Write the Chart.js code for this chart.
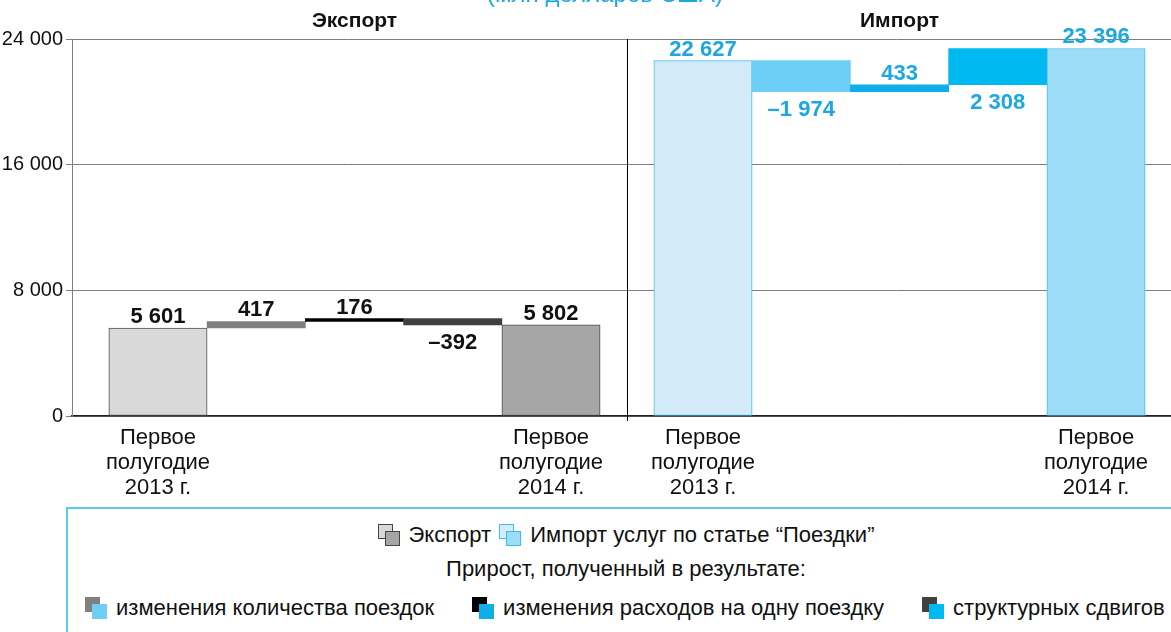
<!DOCTYPE html>
<html lang="ru">
<head>
<meta charset="utf-8">
<script src="https://cdn.jsdelivr.net/npm/chart.js@4.4.1/dist/chart.umd.min.js"></script>
<style>
  html, body { margin: 0; padding: 0; background: #fff; overflow: hidden; }
  body { width: 1171px; height: 632px; position: relative; font-family: "Liberation Sans", Arial, sans-serif; color: #111; }
  #wrap { position: absolute; left: 0; top: -20px; width: 1171px; height: 525px; }
  .legend { position: absolute; left: 66px; top: 507px; width: 1120px; height: 150px; border: 2px solid #5bc8f0; box-sizing: border-box; font-size: 22px; }
  .row { position: absolute; left: 0; right: 0; display: flex; align-items: center; height: 26px; }
  .row.c { justify-content: center; }
  .r1 { top: 13px; } .r2 { top: 47px; } .r3 { top: 86px; padding-left: 17px; gap: 38px; }
  .item { display: flex; align-items: center; }
  .sw { position: relative; width: 23px; height: 23px; margin-right: 8px; }
  .sw i { position: absolute; width: 15px; height: 15px; box-sizing: border-box; }
  .sw i.b { left: 0; top: 0; }
  .sw i.f { left: 7px; top: 7px; }
  .gap { width: 8px; }
</style>
</head>
<body>
<div id="wrap"><canvas id="chart"></canvas></div>
<div class="legend" id="legend"></div>
<script>
// values, mln US dollars
const groups = ['Экспорт', 'Импорт'];
const periods = [['Первое', 'полугодие', '2013 г.'], ['Первое', 'полугодие', '2014 г.']];
const exportValues = [5601, 417, 176, -392, 5802];
const importValues = [22627, -1974, 433, 2308, 23396];
const yTicks = [0, 8000, 16000, 24000];
const unitTitle = '(млн долларов США)';

const exportColors = ['#d9d9d9', '#808080', '#000000', '#404040', '#a6a6a6'];
const importColors = ['#d4ecf9', '#6dcff6', '#0eaee9', '#00b9f1', '#9ddcf6'];
const blue = '#1ba8e1';
const FONT = '"Liberation Sans", Arial, sans-serif';

// x positions of the two groups on the linear axis (bar width = 1)
const groupStart = [0, 5.547];
// bars whose value label sits under the bar
const labelsBelow = new Set([3, 6, 8]);

function fmt(v) {
  const s = Math.abs(v).toString().replace(/\B(?=(\d{3})+(?!\d))/g, ' ');
  return v < 0 ? '–' + s : s;
}

// waterfall: first and last bars from zero, steps float
function waterfall(values, start) {
  let run = 0;
  return values.map((v, i) => {
    if (i === 0 || i === values.length - 1) { run = v; return { x: start + i, y: [0, v] }; }
    const p = { x: start + i, y: [run, run + v] };
    run += v;
    return p;
  });
}

const allValues = exportValues.concat(importValues);
const points = waterfall(exportValues, groupStart[0]).concat(waterfall(importValues, groupStart[1]));
const fills = exportColors.concat(importColors);
const isTotal = i => i % 5 === 0 || i % 5 === 4;
const edges = allValues.map((v, i) => !isTotal(i) ? 'rgba(0,0,0,0)' : (i < 5 ? '#4d4d4d' : '#3fbdee'));
const widths = allValues.map((v, i) => isTotal(i) ? 1 : 0);

const textPlugin = {
  id: 'texts',
  afterDatasetsDraw(chart) {
    const ctx = chart.ctx;
    const xs = chart.scales.x;
    const area = chart.chartArea;
    ctx.save();
    // divider between groups
    const dx = Math.round(xs.getPixelForValue((groupStart[0] + 4 + groupStart[1]) / 2)) + 0.5;
    ctx.strokeStyle = '#000';
    ctx.lineWidth = 1;
    ctx.beginPath();
    ctx.moveTo(dx, area.top);
    ctx.lineTo(dx, area.bottom + 5);
    ctx.stroke();

    // value labels
    const meta = chart.getDatasetMeta(0);
    ctx.font = 'bold 22px ' + FONT;
    ctx.textAlign = 'center';
    meta.data.forEach((bar, i) => {
      const top = Math.min(bar.y, bar.base);
      const bottom = Math.max(bar.y, bar.base);
      ctx.fillStyle = i < 5 ? '#111' : blue;
      if (labelsBelow.has(i)) {
        ctx.textBaseline = 'top';
        ctx.fillText(fmt(allValues[i]), bar.x, bottom + 7);
      } else {
        ctx.textBaseline = 'alphabetic';
        ctx.fillText(fmt(allValues[i]), bar.x, top - 5);
      }
    });

    // group headers
    ctx.fillStyle = '#111';
    ctx.font = 'bold 21px ' + FONT;
    ctx.textBaseline = 'alphabetic';
    groups.forEach((g, i) => {
      ctx.fillText(g, xs.getPixelForValue(groupStart[i] + 2), 47);
    });
    ctx.fillStyle = blue;
    ctx.font = '24px ' + FONT;
    ctx.fillText(unitTitle, 605, 22);
    ctx.restore();
  }
};

const labelAt = {};
labelAt[groupStart[0]] = periods[0];
labelAt[groupStart[0] + 4] = periods[1];
labelAt[groupStart[1]] = periods[0];
labelAt[groupStart[1] + 4] = periods[1];

new Chart(document.getElementById('chart'), {
  type: 'bar',
  data: {
    datasets: [{
      data: points,
      backgroundColor: fills,
      borderColor: edges,
      borderWidth: widths,
      borderSkipped: false,
      barPercentage: 1,
      categoryPercentage: 1
    }]
  },
  options: {
    responsive: true,
    maintainAspectRatio: false,
    animation: false,
    layout: { padding: { top: 59, right: 0, left: 0, bottom: 0 } },
    plugins: { legend: { display: false }, tooltip: { enabled: false } },
    scales: {
      x: {
        type: 'linear',
        offset: false,
        min: -0.875,
        max: 10.31,
        grid: { display: false, drawTicks: false },
        border: { display: true, color: '#222', width: 1.5 },
        afterBuildTicks: s => { s.ticks = Object.keys(labelAt).map(k => ({ value: Number(k) })); },
        afterFit: s => { s.height = 89; },
        ticks: {
          autoSkip: false,
          maxRotation: 0,
          padding: 9,
          color: '#111',
          font: { size: 22, family: FONT, lineHeight: 25 / 22 },
          callback: v => labelAt[v] || ''
        }
      },
      y: {
        min: 0,
        max: 24000,
        afterBuildTicks: s => { s.ticks = yTicks.map(v => ({ value: v })); },
        afterFit: s => { s.width = 72; },
        grid: { color: '#7f7f7f', lineWidth: 1, tickLength: 6 },
        border: { color: '#7f7f7f' },
        ticks: {
          padding: 3,
          color: '#111',
          font: { size: 20, family: FONT },
          callback: v => fmt(v)
        }
      }
    }
  },
  plugins: [textPlugin]
});

// legend (paired swatches as in the original)
const legendRows = [
  [['Экспорт', '#d9d9d9', '#a6a6a6', '#444'], ['Импорт услуг по статье “Поездки”', '#d4ecf9', '#9ddcf6', '#3fbdee']],
  [['изменения количества поездок', exportColors[1], importColors[1]],
   ['изменения расходов на одну поездку', exportColors[2], importColors[2]],
   ['структурных сдвигов', exportColors[3], importColors[3]]]
];
const swatch = (b, f, edge) => {
  const bd = edge ? `border:1px solid ${edge};` : '';
  return `<span class="sw"><i class="b" style="background:${b};${bd}"></i><i class="f" style="background:${f};${bd}"></i></span>`;
};
const legend = document.getElementById('legend');
legend.innerHTML =
  '<div class="row c r1">' + legendRows[0].map(r => `<span class="item">${swatch(r[1], r[2], r[3])}${r[0]}</span>`).join('<span class="gap"></span>') + '</div>' +
  '<div class="row c r2">Прирост, полученный в результате:</div>' +
  '<div class="row r3">' + legendRows[1].map(r => `<span class="item">${swatch(r[1], r[2])}${r[0]}</span>`).join('') + '</div>';
</script>
</body>
</html>
